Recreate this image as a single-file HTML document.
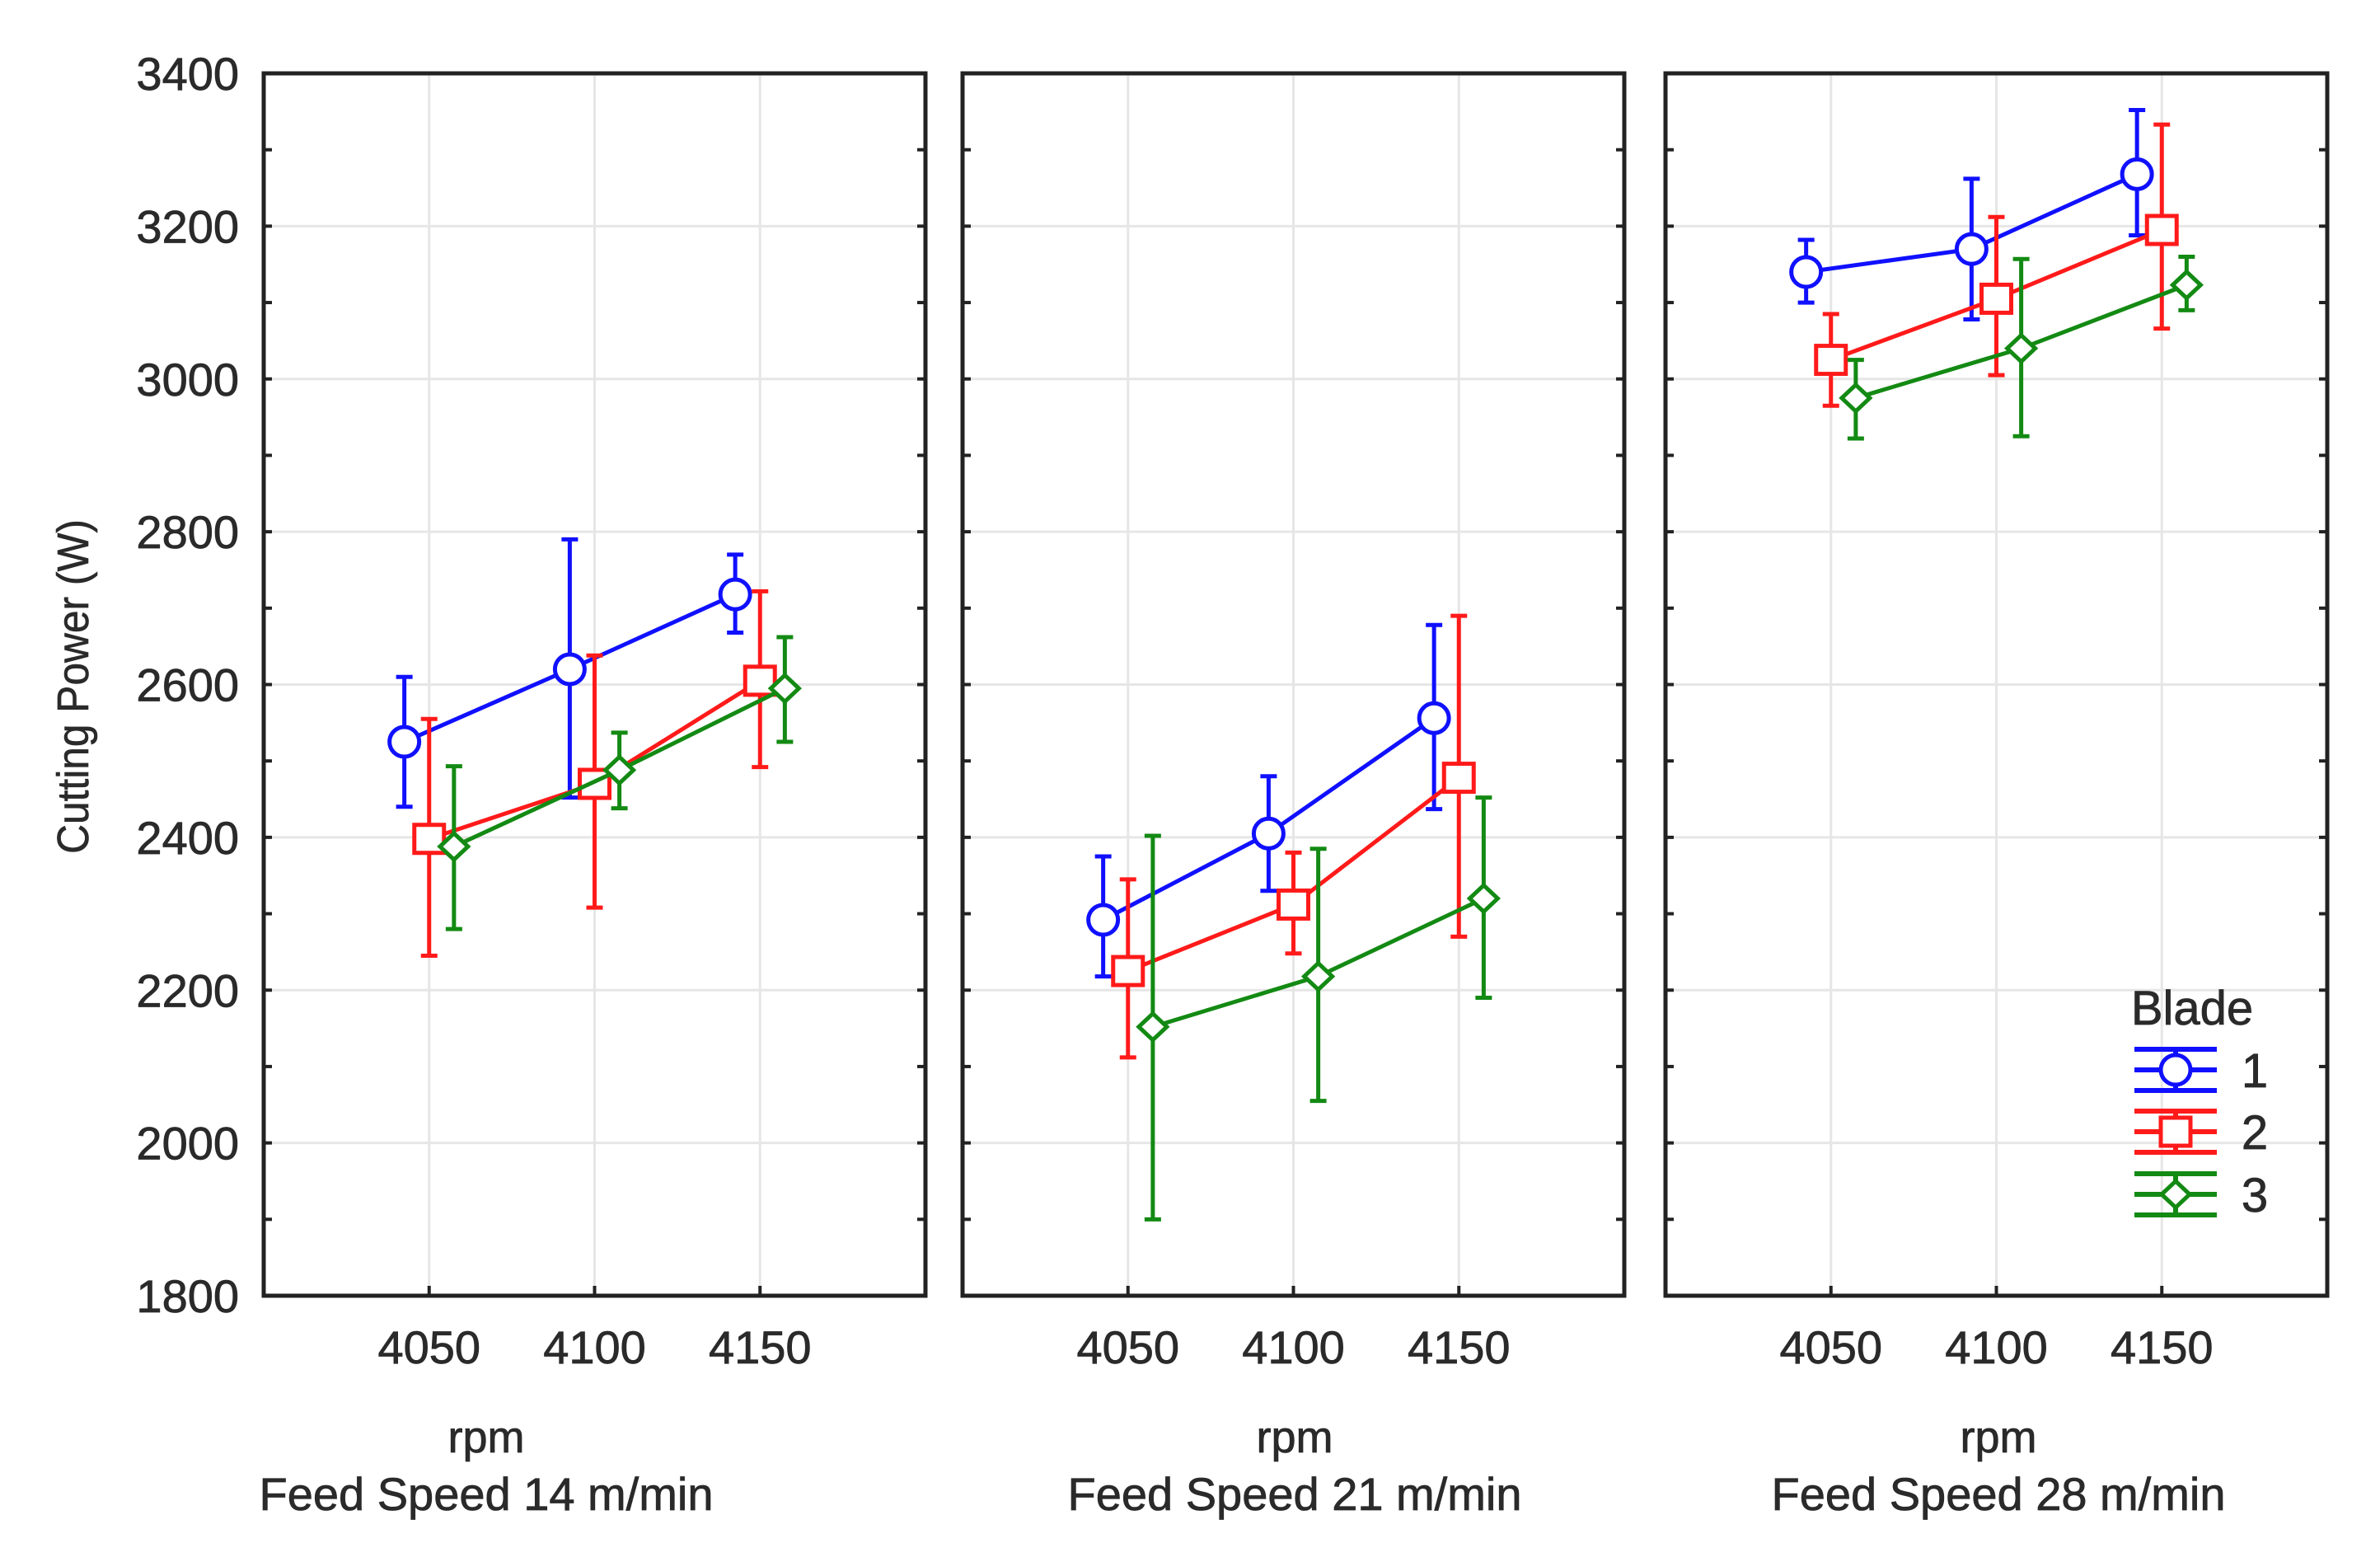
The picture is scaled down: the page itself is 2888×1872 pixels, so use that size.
<!DOCTYPE html>
<html><head><meta charset="utf-8"><style>
html,body{margin:0;padding:0;background:#fff;}
svg{display:block;font-family:"Liberation Sans",Arial,sans-serif;}
</style></head><body>
<svg id="chart" width="2888" height="1872" viewBox="0 0 2888 1872" xmlns="http://www.w3.org/2000/svg"></svg>
<script>
const panelTitles = ["Feed Speed 14 m/min","Feed Speed 21 m/min","Feed Speed 28 m/min"];
const rpmCats = [4050,4100,4150];
const yTicks = [1800,2000,2200,2400,2600,2800,3000,3200,3400];
const blades = ["1","2","3"];
const bladeColors = ["#1010ff","#ff1a1a","#138a13"];
const blade1Mean = [[2525,2620,2718],[2292,2405,2556],[3140,3170,3268]];
const blade1Lo   = [[2440,2452,2668],[2218,2330,2437],[3100,3078,3188]];
const blade1Hi   = [[2610,2790,2770],[2375,2480,2678],[3182,3262,3352]];
const blade2Mean = [[2398,2470,2605],[2225,2312,2478],[3025,3105,3195]];
const blade2Lo   = [[2245,2308,2492],[2112,2248,2270],[2965,3005,3066]];
const blade2Hi   = [[2555,2638,2722],[2345,2380,2690],[3085,3212,3333]];
const blade3Mean = [[2388,2488,2595],[2152,2218,2320],[2975,3040,3123]];
const blade3Lo   = [[2280,2438,2525],[1900,2055,2190],[2922,2925,3090]];
const blade3Hi   = [[2493,2537,2662],[2402,2385,2452],[3025,3157,3160]];

const svg = document.getElementById('chart');
const NS = 'http://www.w3.org/2000/svg';
function mk(tag, attrs, parent){const e=document.createElementNS(NS,tag);for(const k in attrs)e.setAttribute(k,attrs[k]);(parent||svg).appendChild(e);return e;}

const panelLeft=[320,1168,2021], panelW=803;
const titleX=[590,1571,2425];
const yTop=89, yBottom=1572;
const yMin=1800,yMax=3400,xMin=4000,xMax=4200;
function yS(v){return yBottom-(v-yMin)/(yMax-yMin)*(yBottom-yTop);}
function xS(p,v){return panelLeft[p]+(v-xMin)/(xMax-xMin)*panelW;}
const offsets=[-7.5,0,7.5];
const means=[blade1Mean,blade2Mean,blade3Mean], los=[blade1Lo,blade2Lo,blade3Lo], his=[blade1Hi,blade2Hi,blade3Hi];
const TXT='#2a2a2a';

function marker(g,s,x,y,c){
  if(s===0){const m=mk('circle',{cx:x,cy:y,r:18,fill:'#fff',stroke:c,'stroke-width':5},g);}
  else if(s===1){const m=mk('rect',{x:x-18,y:y-17,width:36,height:34,fill:'#fff',stroke:c,'stroke-width':5},g);}
  else {const m=mk('polygon',{points:`${x},${y-16} ${x+17},${y} ${x},${y+16} ${x-17},${y}`,fill:'#fff',stroke:c,'stroke-width':5},g);}
}

for(let p=0;p<3;p++){
  const g=mk('g',{});
  
  
  yTicks.forEach(t=>{ if(t>yMin&&t<yMax){const l=mk('line',{x1:panelLeft[p],x2:panelLeft[p]+panelW,y1:yS(t),y2:yS(t),stroke:'#e6e6e6','stroke-width':3},g);}});
  rpmCats.forEach(r=>{const l=mk('line',{x1:xS(p,r),x2:xS(p,r),y1:yTop,y2:yBottom,stroke:'#e6e6e6','stroke-width':3},g);});
  for(let v=yMin+100;v<yMax;v+=100){
    mk('line',{x1:panelLeft[p],x2:panelLeft[p]+10,y1:yS(v),y2:yS(v),stroke:'#222','stroke-width':4},g);
    mk('line',{x1:panelLeft[p]+panelW-10,x2:panelLeft[p]+panelW,y1:yS(v),y2:yS(v),stroke:'#222','stroke-width':4},g);
  }
  rpmCats.forEach(r=>{
    mk('line',{x1:xS(p,r),x2:xS(p,r),y1:yBottom-12,y2:yBottom,stroke:'#222','stroke-width':4},g);
    const t=mk('text',{x:xS(p,r),y:1654,'font-size':56,'text-anchor':'middle',fill:TXT,stroke:TXT,'stroke-width':0.8},g);
    t.textContent=r;
    
    
  });
  const fr=mk('rect',{x:panelLeft[p],y:yTop,width:panelW,height:yBottom-yTop,fill:'none',stroke:'#222','stroke-width':5},g);
  
  
  const cx=titleX[p];
  const r1=mk('text',{x:cx,y:1762,'font-size':54,'text-anchor':'middle',fill:TXT,stroke:TXT,'stroke-width':0.8},g);
  r1.textContent='rpm';
  
  
  const r2=mk('text',{x:cx,y:1832,'font-size':56,'text-anchor':'middle',fill:TXT,stroke:TXT,'stroke-width':0.8},g);
  r2.textContent=panelTitles[p];
  
  
  for(let s=0;s<3;s++){
    const c=bladeColors[s];
    const sg=mk('g',{},g);
    
    
    const pts=rpmCats.map((r,i)=>`${xS(p,r+offsets[s])},${yS(means[s][p][i])}`).join(' ');
    mk('polyline',{points:pts,fill:'none',stroke:c,'stroke-width':5},sg);
    rpmCats.forEach((r,i)=>{
      const x=xS(p,r+offsets[s]);
      const e=mk('path',{d:`M${x},${yS(los[s][p][i])}V${yS(his[s][p][i])}M${x-10},${yS(los[s][p][i])}H${x+10}M${x-10},${yS(his[s][p][i])}H${x+10}`,stroke:c,'stroke-width':5,fill:'none'},sg);
      
      
    });
    rpmCats.forEach((r,i)=>marker(sg,s,xS(p,r+offsets[s]),yS(means[s][p][i]),c));
  }
}
yTicks.forEach(t=>{
  const e=mk('text',{x:290,y:yS(t)+20,'font-size':56,'text-anchor':'end',fill:TXT,stroke:TXT,'stroke-width':0.8});
  e.textContent=t;
  
  
});
const yt=mk('text',{x:0,y:0,'font-size':54,'text-anchor':'middle',fill:TXT,stroke:TXT,'stroke-width':0.6,transform:'translate(107,833) rotate(-90) scale(0.92,1)'});
yt.textContent='Cutting Power (W)';


const lg=mk('g',{});


const lt=mk('text',{x:2660,y:1243,'font-size':58,'text-anchor':'middle',fill:TXT,stroke:TXT,'stroke-width':0.8},lg);
lt.textContent='Blade';


const legY=[1298,1373,1449];
for(let s=0;s<3;s++){
  const eg=mk('g',{},lg);
  
  
  const c=bladeColors[s], y=legY[s], x=2640;
  mk('path',{d:`M2590,${y-25}H2690M2590,${y}H2690M2590,${y+25}H2690M${x},${y-25}V${y+25}`,stroke:c,'stroke-width':6,fill:'none'},eg);
  marker(eg,s,x,y,c);
  const t=mk('text',{x:2736,y:y+21,'font-size':58,'text-anchor':'middle',fill:TXT,stroke:TXT,'stroke-width':0.8},eg);
  t.textContent=blades[s];
}
</script>
</body></html>
